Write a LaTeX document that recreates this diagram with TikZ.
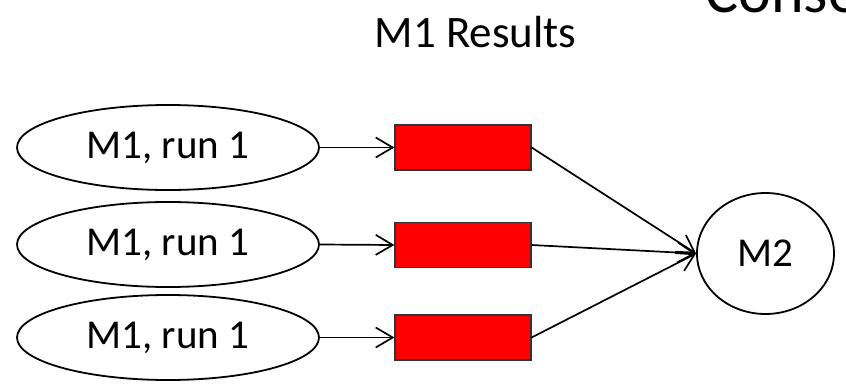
\documentclass[tikz,border=0pt]{standalone}
\usepackage{fontspec}
\setmainfont{Carlito}
\usetikzlibrary{shapes.geometric,arrows.meta}
\begin{document}
\begin{tikzpicture}[x=1pt,y=-1pt,
  runnode/.style={ellipse,draw,line width=1.8pt,minimum width=302pt,minimum height=85pt,inner sep=0pt,font=\fontsize{41}{49}\selectfont},
  resbox/.style={rectangle,draw=black!80,fill=red,line width=1.2pt,minimum width=136pt,minimum height=45pt,inner sep=0pt},
  m2node/.style={ellipse,draw,line width=1.8pt,minimum width=137pt,minimum height=121pt,inner sep=0pt,font=\fontsize{41}{49}\selectfont},
  conn/.style={line width=1.7pt},
  arr/.style={conn,-{Straight Barb[length=17pt,width=20pt,line width=1.7pt]}}]
\useasboundingbox (0,0) rectangle (846,383);
\node[anchor=base,font=\fontsize{45}{54}\selectfont] (title) at (475.5,47) {M1 Results};
\node[anchor=base west,font=\fontsize{62}{74}\selectfont] (cons) at (702,12) {Conse};
\node[runnode] (e1) at (168,147.5) {M1, run 1};
\node[runnode] (e2) at (168,244.5) {M1, run 1};
\node[runnode] (e3) at (168,337.5) {M1, run 1};
\node[resbox] (r1) at (463,147.5) {};
\node[resbox] (r2) at (463,245) {};
\node[resbox] (r3) at (463,337.5) {};
\node[m2node] (m2) at (765.5,253.5) {M2};
\draw[arr] (e1.east) -- (r1.west);
\draw[arr] (e2.east) -- (r2.west);
\draw[arr] (e3.east) -- (r3.west);
\draw[arr] (r1.east) -- (m2.west);
\draw[arr] (r2.east) -- (m2.west);
\draw[arr] (r3.east) -- (m2.west);
\end{tikzpicture}
\end{document}
